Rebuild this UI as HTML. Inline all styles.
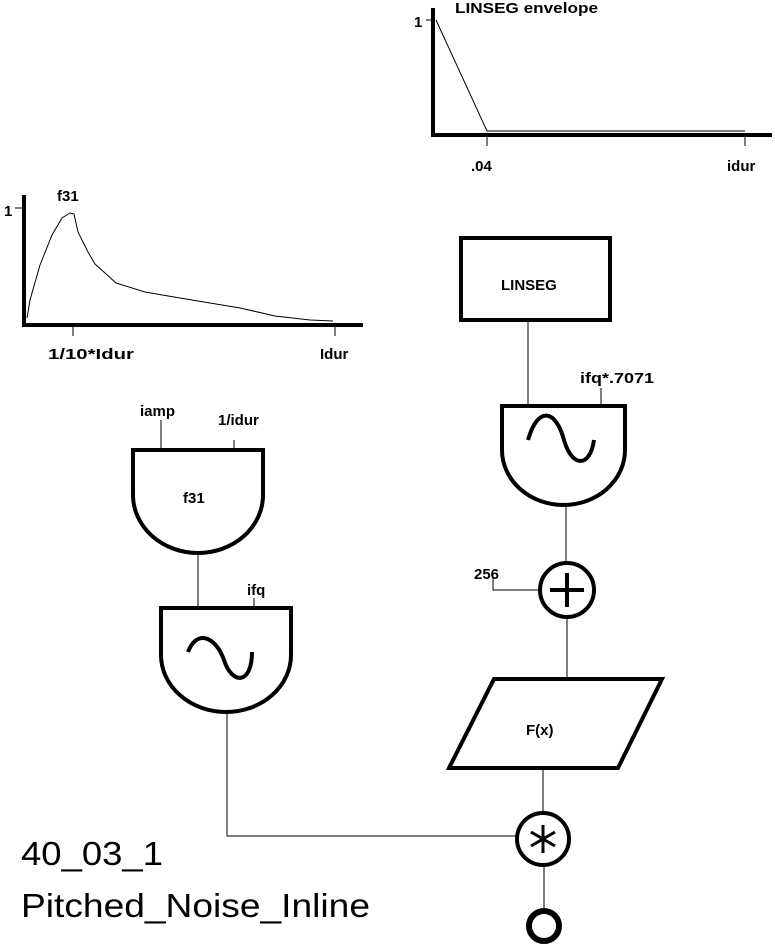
<!DOCTYPE html>
<html><head><meta charset="utf-8"><style>
html,body{margin:0;padding:0;background:#fff;}
svg{display:block;}
text{font-family:"Liberation Sans",Arial,sans-serif;fill:#000;font-weight:bold;}
</style></head><body>
<svg width="775" height="946" viewBox="0 0 775 946" xmlns="http://www.w3.org/2000/svg">
<g fill="none" stroke="#000">
<path d="M433,8 V135 H772" stroke-width="4"/>
<g shape-rendering="crispEdges" stroke-width="1">
<path d="M426,20 H433 M487,135 V146 M745,135 V146"/>
<path d="M15,208 H24 M73,325 V336 M335,325 V336"/>
<path d="M528,320 V406 M601,388 V406"/>
<path d="M566,505 V563"/>
<path d="M493,576 V590 H540"/>
<path d="M567,617 V678"/>
<path d="M543,768 V813"/>
<path d="M544,865 V910"/>
<path d="M161,420 V450 M234,440 V450"/>
<path d="M198,553 V608 M254,598 V608"/>
<path d="M227,712 V836 H517"/>
</g>
<path d="M436,20 L487,131 H745" stroke-width="1"/>
<path d="M24,195 V325 H363" stroke-width="4"/>
<path d="M27,318 L30,300 L40,265 L52,235 L62,218 L70,213 L74,214 L78,232 L88,252 L95,264 L105,273 L116,283 L145,292 L180,298 L240,308 L275,316 L310,320 L333,321" stroke-width="1"/>
<rect x="461" y="238" width="149" height="82" stroke-width="4"/>
<path d="M502,406 H625 V450 A61.5,55 0 0 1 502,450 Z" stroke-width="4"/>
<path d="M528,440 C538,405 556,410 564,440 C572,468 590,468 594,440" stroke-width="4"/>
<circle cx="567" cy="590" r="27" stroke-width="4"/>
<path d="M567,573 V607 M550,590 H584" stroke-width="4"/>
<path d="M494,679 H662 L618,768 H449 Z" stroke-width="4"/>
<circle cx="543" cy="839" r="26" stroke-width="4"/>
<path d="M543,825 V853 M531,832 L555,846 M531,846 L555,832" stroke-width="3"/>
<circle cx="544" cy="926" r="15" stroke-width="6"/>
<path d="M133,450 H263 V495 A65,58 0 0 1 133,495 Z" stroke-width="4"/>
<path d="M161,608 H291 V655 A65,57 0 0 1 161,655 Z" stroke-width="4"/>
<path d="M188,652 C196,630 215,635 224,660 C232,685 252,685 252,652" stroke-width="4"/>
</g>
<g font-size="15">
<text x="455" y="13" textLength="143" lengthAdjust="spacingAndGlyphs">LINSEG envelope</text>
<text x="414" y="27">1</text>
<text x="471" y="171">.04</text>
<text x="727" y="171">idur</text>
<text x="4" y="216">1</text>
<text x="57" y="201">f31</text>
<text x="48" y="359" textLength="86" lengthAdjust="spacingAndGlyphs">1/10*Idur</text>
<text x="320" y="359">Idur</text>
<text x="501" y="290">LINSEG</text>
<text x="580" y="383" textLength="74" lengthAdjust="spacingAndGlyphs">ifq*.7071</text>
<text x="140" y="416">iamp</text>
<text x="218" y="425">1/idur</text>
<text x="183" y="503">f31</text>
<text x="247" y="595">ifq</text>
<text x="474" y="579">256</text>
<text x="526" y="735">F(x)</text>
</g>
<text x="21" y="865" font-size="33" style="font-weight:normal" textLength="142" lengthAdjust="spacingAndGlyphs">40_03_1</text>
<text x="21" y="917" font-size="33" style="font-weight:normal" textLength="349" lengthAdjust="spacingAndGlyphs">Pitched_Noise_Inline</text>
</svg>
</body></html>
